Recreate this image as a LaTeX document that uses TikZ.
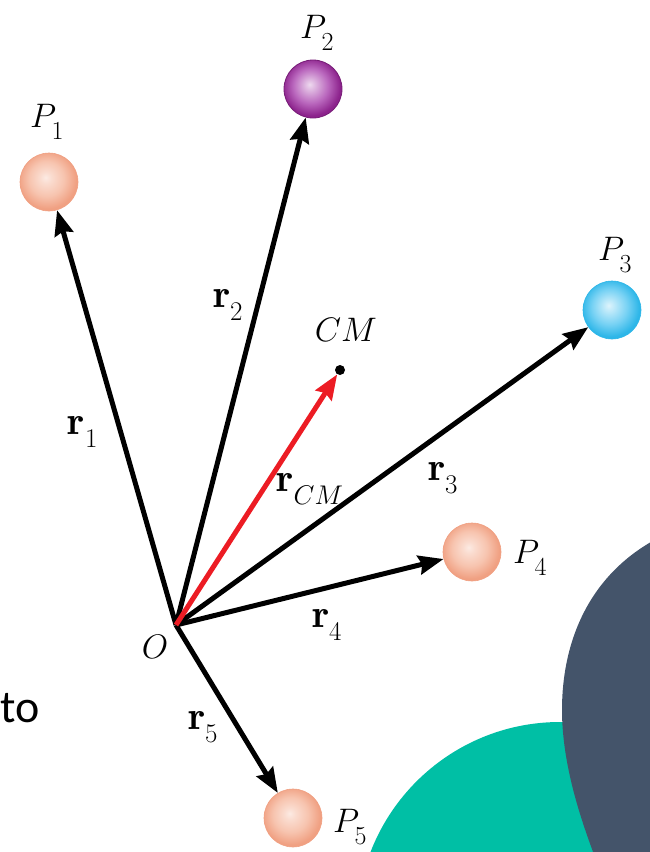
\RequirePackage{fix-cm}
\documentclass[tikz,border=0pt]{standalone}
\usepackage{fontspec}
\usetikzlibrary{arrows.meta}
\newfontfamily\calib{Carlito}
\DeclareMathSizes{34}{34}{26}{20}
\DeclareMathSizes{40}{40}{27}{20}
\newcommand{\lsb}[1]{_{\lower7pt\hbox{$\scriptstyle #1$}}}
\definecolor{salO}{RGB}{240,160,130}
\definecolor{salM}{RGB}{247,196,175}
\definecolor{purO}{RGB}{140,34,140}
\definecolor{purM}{RGB}{186,104,190}
\definecolor{bluO}{RGB}{45,182,232}
\definecolor{bluM}{RGB}{120,210,244}
\definecolor{tealbg}{RGB}{0,191,165}
\definecolor{slatebg}{RGB}{68,84,106}
\definecolor{cmred}{RGB}{236,28,36}
\pgfdeclareradialshading{salball}{\pgfpoint{-3bp}{4bp}}{color(0bp)=(salM!35!white); color(5bp)=(salM!60!white); color(15bp)=(salM); color(25bp)=(salO); color(50bp)=(salO)}
\pgfdeclareradialshading{purball}{\pgfpoint{-3bp}{4bp}}{color(0bp)=(purM!25!white); color(5bp)=(purM!50!white); color(15bp)=(purM); color(25bp)=(purO); color(50bp)=(purO)}
\pgfdeclareradialshading{bluball}{\pgfpoint{-3bp}{4bp}}{color(0bp)=(bluM!25!white); color(5bp)=(bluM!50!white); color(15bp)=(bluM); color(25bp)=(bluO); color(50bp)=(bluO)}
\tikzset{
  ball/.style={circle, minimum size=58pt, inner sep=0pt},
  salsphere/.style={ball, shading=salball, draw=salO, line width=0.6pt},
  pursphere/.style={ball, shading=purball, draw=purO!85!black, line width=0.8pt},
  blusphere/.style={ball, shading=bluball, draw=bluO, line width=0.6pt},
  vec/.style={line width=5pt, -{Stealth[length=25pt, width=19pt, inset=3pt]}},
  lab/.style={inner sep=0pt, font=\fontsize{34}{40}\selectfont},
  rlab/.style={inner sep=0pt, font=\fontsize{40}{46}\selectfont},
}
\begin{document}
\begin{tikzpicture}[x=1pt, y=-1pt]
\useasboundingbox (0,0) rectangle (650,852);
\clip (0,0) rectangle (650,852);
% background shapes
\fill[tealbg] (560,925) circle[radius=203pt];
\fill[slatebg] (662,536) .. controls (590,572) and (562,640) .. (562,710) .. controls (562,770) and (585,830) .. (596,860) -- (662,860) -- cycle;
% text fragment
\node[anchor=base west, inner sep=0pt, font=\calib\fontsize{46}{52}\selectfont] (to) at (0,722) {to};
% origin and masses
\coordinate (O) at (176,625);
\node[salsphere] (P1) at (49,182) {};
\node[pursphere] (P2) at (313,89) {};
\node[blusphere] (P3) at (612,310) {};
\node[salsphere] (P4) at (472,552) {};
\node[salsphere] (P5) at (293,818) {};
\node[circle, fill=black, inner sep=0pt, minimum size=10pt] (cm) at (340,370) {};
% vectors
\draw[vec] (O) -- (P1);
\draw[vec] (O) -- (P2);
\draw[vec] (O) -- (P3);
\draw[vec] (O) -- (P4);
\draw[vec] (O) -- (P5);
\draw[vec, cmred] (O) -- (cm);
% labels
\node[lab] (lP1) at (47,122) {$P\lsb{1}$};
\node[lab] (lP2) at (317,33) {$P\lsb{2}$};
\node[lab] (lP3) at (615,255) {$P\lsb{3}$};
\node[lab] (lP4) at (530,558) {$P\lsb{4}$};
\node[lab] (lP5) at (350,827) {$P\lsb{5}$};
\node[lab] (lCM) at (346,330) {$CM$};
\node[lab] (lO) at (155,647) {$O$};
\node[rlab] (lr1) at (83,432) {$\mathbf{r}\lsb{1}$};
\node[rlab] (lr2) at (228,305) {$\mathbf{r}\lsb{2}$};
\node[rlab] (lr3) at (443,478) {$\mathbf{r}\lsb{3}$};
\node[rlab] (lr4) at (327,625) {$\mathbf{r}\lsb{4}$};
\node[rlab] (lr5) at (203,727) {$\mathbf{r}\lsb{5}$};
\node[rlab] (lrcm) at (310,489) {$\mathbf{r}\lsb{CM}$};
\end{tikzpicture}
\end{document}
